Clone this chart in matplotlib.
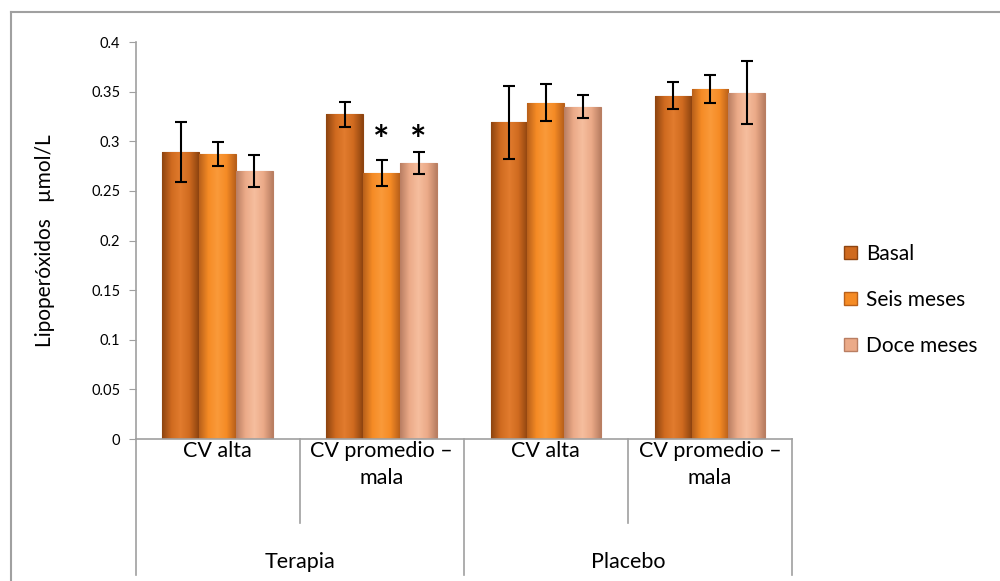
import numpy as np
import matplotlib.pyplot as plt
from matplotlib.patches import Patch
from matplotlib.colors import LinearSegmentedColormap

plt.rcParams['font.family'] = ['Lato', 'DejaVu Sans']

# data
categories = ['CV alta', 'CV promedio –\nmala', 'CV alta', 'CV promedio –\nmala']
groups = ['Terapia', 'Placebo']
series = ['Basal', 'Seis meses', 'Doce meses']
basal = [0.289, 0.327, 0.319, 0.346]
seis = [0.287, 0.268, 0.339, 0.353]
doce = [0.270, 0.278, 0.335, 0.349]
basal_err = [0.030, 0.013, 0.037, 0.014]
seis_err = [0.012, 0.013, 0.019, 0.014]
doce_err = [0.016, 0.011, 0.012, 0.032]
yticks = [0, 0.05, 0.1, 0.15, 0.2, 0.25, 0.3, 0.35, 0.4]
ytick_labels = ['0', '0.05', '0.1', '0.15', '0.2', '0.25', '0.3', '0.35', '0.4']
star_cat = 1  # asterisks over Seis meses and Doce meses in Terapia / CV promedio

colors = ['#CF6A1F', '#F58B25', '#EBAA88']
edge_dark = ['#8E4410', '#B9601A', '#B97E62']
light = ['#E27C2E', '#FA9A3A', '#F6BE9E']

fig = plt.figure(figsize=(10, 5.81), dpi=100)
ax = fig.add_axes([0.1355, 0.2444, 0.6565, 0.6833])

x = np.arange(len(categories))
width = 0.2245
values = [basal, seis, doce]
errs = [basal_err, seis_err, doce_err]

for i, (vals, err) in enumerate(zip(values, errs)):
    pos = x + (i - 1) * width
    bars = ax.bar(pos, vals, width=width, color=colors[i], edgecolor=edge_dark[i],
                  linewidth=0.8, zorder=2)
    cmap = LinearSegmentedColormap.from_list('b%d' % i, [edge_dark[i], colors[i], light[i], colors[i], edge_dark[i]])
    grad = np.linspace(0, 1, 64).reshape(1, -1)
    for b in bars:
        im = ax.imshow(grad, cmap=cmap, aspect='auto', zorder=2.5,
                       extent=[b.get_x(), b.get_x() + b.get_width(), 0, b.get_height()])
        im.set_clip_path(b)
    ax.errorbar(pos, vals, yerr=err, fmt='none', ecolor='black', elinewidth=1.5,
                capsize=4.5, capthick=1.5, zorder=4)

for i in (1, 2):
    ax.text(star_cat + (i - 1) * width, 0.300, '*', ha='center', va='center',
            fontsize=28, fontweight='bold', zorder=5)

ax.set_xlim(-0.5, len(categories) - 0.5)
ax.set_ylim(0, 0.4)
ax.set_yticks(yticks)
ax.set_yticklabels(ytick_labels, fontsize=10.5)
ax.set_xticks([])
ax.set_ylabel('Lipoperóxidos   µmol/L', fontsize=15)
ax.yaxis.set_label_coords(-0.122, 0.5)
ax.tick_params(axis='y', direction='out', length=5, color='#A0A0A0', pad=6)
for s in ('top', 'right'):
    ax.spines[s].set_visible(False)
for s in ('left', 'bottom'):
    ax.spines[s].set_color('#A0A0A0')
    ax.spines[s].set_linewidth(1.2)
ax.set_autoscale_on(False)

# category axis boxes
tr = ax.get_xaxis_transform()
for k in range(len(categories) + 1):
    bottom = -0.3426 if k % 2 == 0 else -0.2116
    ax.plot([k - 0.5, k - 0.5], [0, bottom], transform=tr, color='#A0A0A0',
            lw=1.2, clip_on=False)
for k, lab in enumerate(categories):
    ax.text(k, -0.005, lab, transform=tr, ha='center', va='top', fontsize=15.5,
            linespacing=1.45)
for g, lab in enumerate(groups):
    ax.text(2 * g + 0.5, -0.31, lab, transform=tr, ha='center', va='center', fontsize=15.5)

handles = [Patch(facecolor=colors[i], edgecolor=edge_dark[i], label=series[i]) for i in range(3)]
fig.legend(handles=handles, loc='center left', bbox_to_anchor=(0.836, 0.484), frameon=False,
           fontsize=15, handlelength=0.6, handleheight=0.6, handletextpad=0.45,
           labelspacing=1.25, borderaxespad=0)

# outer chart border
fig.add_artist(plt.Line2D([0.011, 0.011], [0, 1 - 12 / 581], color='#A0A0A0', lw=1.5,
                          transform=fig.transFigure))
fig.add_artist(plt.Line2D([0.011, 1], [1 - 12 / 581, 1 - 12 / 581], color='#A0A0A0', lw=1.5,
                          transform=fig.transFigure))

fig.savefig('out.png', dpi=100)
